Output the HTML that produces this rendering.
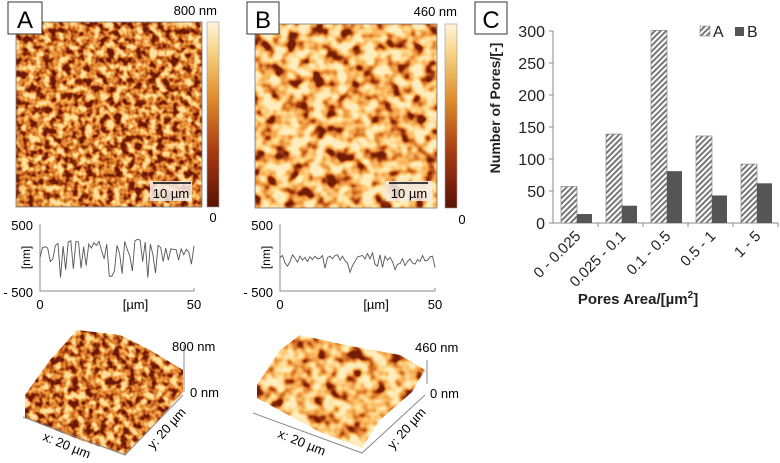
<!DOCTYPE html>
<html><head><meta charset="utf-8">
<style>
html,body{margin:0;padding:0;background:#fff;}
body{width:780px;height:458px;overflow:hidden;font-family:"Liberation Sans",Arial,sans-serif;}
svg text{font-family:"Liberation Sans",Arial,sans-serif;}
</style></head>
<body>
<svg id="fig" width="780" height="458" viewBox="0 0 780 458" xmlns="http://www.w3.org/2000/svg">
<defs>
  <filter id="texA" x="0" y="0" width="100%" height="100%" color-interpolation-filters="sRGB">
    <feTurbulence type="fractalNoise" baseFrequency="0.14" numOctaves="2" seed="3" result="n"/>
    <feColorMatrix type="matrix" in="n" values="1 0 0 0 0  1 0 0 0 0  1 0 0 0 0  0 0 0 0 1" result="g"/>
    <feComponentTransfer in="g" result="s">
      <feFuncR type="linear" slope="2.6" intercept="-0.8"/>
      <feFuncG type="linear" slope="2.6" intercept="-0.8"/>
      <feFuncB type="linear" slope="2.6" intercept="-0.8"/>
    </feComponentTransfer>
    <feComponentTransfer in="s">
      <feFuncR type="table" tableValues="0.42 0.55 0.72 0.84 0.9 0.95 0.98 1"/>
      <feFuncG type="table" tableValues="0.1 0.18 0.32 0.46 0.56 0.66 0.78 0.88"/>
      <feFuncB type="table" tableValues="0.03 0.05 0.1 0.15 0.22 0.32 0.45 0.62"/>
    </feComponentTransfer>
  </filter>
  <filter id="texB" x="0" y="0" width="100%" height="100%" color-interpolation-filters="sRGB">
    <feTurbulence type="fractalNoise" baseFrequency="0.08" numOctaves="2" seed="7" result="n"/>
    <feColorMatrix type="matrix" in="n" values="1 0 0 0 0  1 0 0 0 0  1 0 0 0 0  0 0 0 0 1" result="g"/>
    <feComponentTransfer in="g" result="s">
      <feFuncR type="linear" slope="2.6" intercept="-0.7"/>
      <feFuncG type="linear" slope="2.6" intercept="-0.7"/>
      <feFuncB type="linear" slope="2.6" intercept="-0.7"/>
    </feComponentTransfer>
    <feComponentTransfer in="s">
      <feFuncR type="table" tableValues="0.45 0.62 0.82 0.92 0.97 1 1 1"/>
      <feFuncG type="table" tableValues="0.12 0.22 0.42 0.58 0.7 0.8 0.88 0.93"/>
      <feFuncB type="table" tableValues="0.03 0.06 0.14 0.24 0.35 0.48 0.62 0.75"/>
    </feComponentTransfer>
  </filter>
  <linearGradient id="cbar" x1="0" y1="1" x2="0" y2="0">
    <stop offset="0" stop-color="#5a1205"/>
    <stop offset="0.3" stop-color="#a83a12"/>
    <stop offset="0.6" stop-color="#e0902e"/>
    <stop offset="0.85" stop-color="#f8d58a"/>
    <stop offset="1" stop-color="#fff5dc"/>
  </linearGradient>
  <pattern id="hatch" width="4" height="4" patternUnits="userSpaceOnUse" patternTransform="rotate(45)">
    <rect width="4" height="4" fill="#fff"/>
    <rect width="2" height="4" fill="#777"/>
  </pattern>
  <clipPath id="s3a"><polygon points="25,395 50,360 77,330 120,335 150,350 183,370 183,392 150,430 125,455 80,440 25,418"/></clipPath>
  <clipPath id="s3b"><polygon points="257,385 280,350 300,335 345,345 400,355 425,370 412,392 380,420 362,448 320,432 257,398"/></clipPath>
</defs>

<g>
  <rect x="16" y="22" width="186" height="185" filter="url(#texA)"/>
  <rect x="16" y="22" width="186" height="185" fill="none" stroke="#777" stroke-width="0.8"/>
  <rect x="150" y="181" width="42" height="20" fill="#f4ece6" opacity="0.85"/>
  <line x1="153" y1="183" x2="191" y2="183" stroke="#000" stroke-width="1.5"/>
  <text x="171" y="198" font-size="13" text-anchor="middle">10 µm</text>
</g>
<rect x="207" y="22" width="12" height="185" fill="url(#cbar)" stroke="#999" stroke-width="0.6"/>
<text x="217" y="15" font-size="13" text-anchor="end">800 nm</text>
<text x="213" y="222" font-size="13" text-anchor="middle">0</text>
<g>
  <rect x="8" y="2" width="34" height="32" fill="#fff" stroke="#333" stroke-width="1"/>
  <text x="25" y="28" font-size="24" text-anchor="middle">A</text>
</g>

<g>
  <rect x="255" y="24" width="182" height="184" filter="url(#texB)"/>
  <rect x="255" y="24" width="182" height="184" fill="none" stroke="#777" stroke-width="0.8"/>
  <rect x="386" y="181" width="46" height="20" fill="#f4ece6" opacity="0.85"/>
  <line x1="389" y1="183" x2="428" y2="183" stroke="#000" stroke-width="1.5"/>
  <text x="409" y="198" font-size="13" text-anchor="middle">10 µm</text>
</g>
<rect x="445" y="24" width="12" height="184" fill="url(#cbar)" stroke="#999" stroke-width="0.6"/>
<text x="457" y="16" font-size="13" text-anchor="end">460 nm</text>
<text x="462" y="224" font-size="13" text-anchor="middle">0</text>
<g>
  <rect x="247" y="2" width="32" height="32" fill="#fff" stroke="#333" stroke-width="1"/>
  <text x="263" y="28" font-size="24" text-anchor="middle">B</text>
</g>

<g id="profA"></g>
<g id="profB"></g>

<g>
  <g clip-path="url(#s3a)"><rect x="20" y="325" width="170" height="135" filter="url(#texA)"/></g>
  <polyline points="23,417 125,455 183,395" fill="none" stroke="#888" stroke-width="1"/>
  <line x1="184" y1="345" x2="184" y2="392" stroke="#888"/>
  <text x="172" y="351" font-size="13">800 nm</text>
  <text x="190" y="397" font-size="13">0 nm</text>
  <text transform="translate(42,440) rotate(22)" font-size="13">x: 20 µm</text>
  <text transform="translate(153,450) rotate(-48)" font-size="13">y: 20 µm</text>
</g>
<g>
  <g clip-path="url(#s3b)"><rect x="250" y="325" width="180" height="130" filter="url(#texB)"/></g>
  <polyline points="253,413 362,453 425,395" fill="none" stroke="#888" stroke-width="1"/>
  <line x1="427" y1="360" x2="427" y2="384" stroke="#888"/>
  <text x="415" y="352" font-size="13">460 nm</text>
  <text x="430" y="398" font-size="13">0 nm</text>
  <text transform="translate(277,437) rotate(22)" font-size="13">x: 20 µm</text>
  <text transform="translate(393,450) rotate(-48)" font-size="13">y: 20 µm</text>
</g>

<g>
  <rect x="475" y="2" width="32" height="32" fill="#fff" stroke="#333" stroke-width="1"/>
  <text x="491" y="28" font-size="24" text-anchor="middle">C</text>
</g>
<g id="chartC"></g>
</svg>

<script>
const NS = "http://www.w3.org/2000/svg";
const categories = ["0 - 0.025", "0.025 - 0.1", "0.1 - 0.5", "0.5 - 1", "1 - 5"];
const seriesA = [57, 139, 301, 136, 92];
const seriesB = [14, 27, 81, 43, 62];
const yTicks = [0, 50, 100, 150, 200, 250, 300];
const profileAValues = [0,150,160,140,-60,-20,180,210,-300,170,-180,230,250,-170,240,230,-160,160,-120,200,140,220,180,240,100,-20,200,-280,-280,-200,180,60,-240,240,120,20,-200,250,270,260,-60,230,-300,200,40,-230,180,150,-60,140,-40,130,120,120,-40,130,40,120,80,-100,170];
const profileBValues = [0,30,-80,-130,-60,40,-10,-70,20,-40,0,-60,10,-30,20,-20,-10,30,-160,0,20,-20,30,40,-40,20,-50,-80,-220,-120,-60,10,20,30,-20,60,-20,70,-100,-130,40,-150,20,-40,0,-60,-180,-100,-90,-20,-120,-60,-20,-80,-100,-30,-60,30,-50,-40,10,20,-150];
const profileXTicks = ["0", "[µm]", "50"];
const profileYTicks = ["500", "- 500"];

function el(tag, attrs, parent){ const e=document.createElementNS(NS,tag); for(const k in attrs) e.setAttribute(k,attrs[k]); parent.appendChild(e); return e; }

(function(){
  const g = document.getElementById('chartC');
  const x0=553, x1=778, y0=223, yTop=31, yMax=300;
  const ys = v => y0 - (v/yMax)*(y0-yTop);
  const gw = (x1-x0)/categories.length;
  const xs = i => x0 + i*gw;
  const ax = el('line',{x1:x0,y1:yTop,x2:x0,y2:y0,stroke:'#888'},g);
   
  const bx = el('line',{x1:x0,y1:y0,x2:x1,y2:y0,stroke:'#888'},g);
   
  yTicks.forEach(v=>{
    el('line',{x1:x0-4,y1:ys(v),x2:x0,y2:ys(v),stroke:'#888'},g);
    const t=el('text',{x:x0-8,y:ys(v)+6,'font-size':16,'text-anchor':'end',fill:'#222'},g);
    t.textContent=v;
     
  });
  categories.forEach((c,i)=>{
    el('line',{x1:xs(i+1),y1:y0,x2:xs(i+1),y2:y0+4,stroke:'#888'},g);
    const ra=el('rect',{x:xs(i)+8,y:ys(seriesA[i]),width:16,height:y0-ys(seriesA[i]),fill:'url(#hatch)',stroke:'#888','stroke-width':0.7},g);
     
    const rb=el('rect',{x:xs(i)+24,y:ys(seriesB[i]),width:15,height:y0-ys(seriesB[i]),fill:'#555'},g);
     
    const cx=xs(i)+gw/2+6, cy=y0+14;
    const t=el('text',{transform:`translate(${cx},${cy}) rotate(-45)`,'font-size':15,'text-anchor':'end',fill:'#222'},g);
    t.textContent=c;
     
  });
  const yt=el('text',{transform:'translate(500,108) rotate(-90)','font-size':14,'font-weight':'bold','text-anchor':'middle',fill:'#222'},g);
  yt.textContent='Number of Pores/[-]';
   
  const xt=el('text',{x:638,y:304,'font-size':15,'font-weight':'bold','text-anchor':'middle',fill:'#222'},g);
  xt.innerHTML='Pores Area/[µm<tspan dy="-6" font-size="10">2</tspan><tspan dy="6">]</tspan>';
   
  const la=el('rect',{x:700,y:26,width:10,height:10,fill:'url(#hatch)',stroke:'#888','stroke-width':0.6},g);
   
  const lta=el('text',{x:713,y:37,'font-size':16,fill:'#222'},g); lta.textContent='A';
   
  const lb=el('rect',{x:735,y:27,width:9,height:9,fill:'#555'},g);
   
  const ltb=el('text',{x:747,y:37,'font-size':16,fill:'#222'},g); ltb.textContent='B';
   
})();

function drawProfile(id, vals, ax0, ax1){
  const g=document.getElementById(id);
  const yTop=224, yBot=291, yMid=(yTop+yBot)/2;
  const ys=v=>yMid - v/500*(yBot-yMid);
  const xs=i=>ax0 + i/(vals.length-1)*(ax1-ax0);
  el('polyline',{points:`${ax0},${yTop} ${ax0},${yBot} ${ax1},${yBot}`,fill:'none',stroke:'#888'},g);
  el('line',{x1:ax1,y1:yBot-3,x2:ax1,y2:yBot,stroke:'#888'},g);
  const p=el('polyline',{points:vals.map((v,i)=>xs(i)+','+ys(v)).join(' '),fill:'none',stroke:'#555','stroke-width':0.9},g);
   
  const t1=el('text',{x:ax0-7,y:yTop+6,'font-size':13,'text-anchor':'end'},g); t1.textContent=profileYTicks[0];
   
  const t2=el('text',{x:ax0-7,y:yBot+6,'font-size':13,'text-anchor':'end'},g); t2.textContent=profileYTicks[1];
   
  const yl=el('text',{transform:`translate(${ax0-10},${yMid}) rotate(-90)`,'font-size':12,'text-anchor':'middle'},g); yl.textContent='[nm]';
   
  [[ax0,0],[ax0+(ax1-ax0)*0.62,1],[ax1,2]].forEach(([x,k])=>{
    const t=el('text',{x:x,y:309,'font-size':13,'text-anchor':'middle'},g); t.textContent=profileXTicks[k];
     
  });
}
drawProfile('profA', profileAValues, 40, 194);
drawProfile('profB', profileBValues, 280, 435);
</script>
</body></html>
